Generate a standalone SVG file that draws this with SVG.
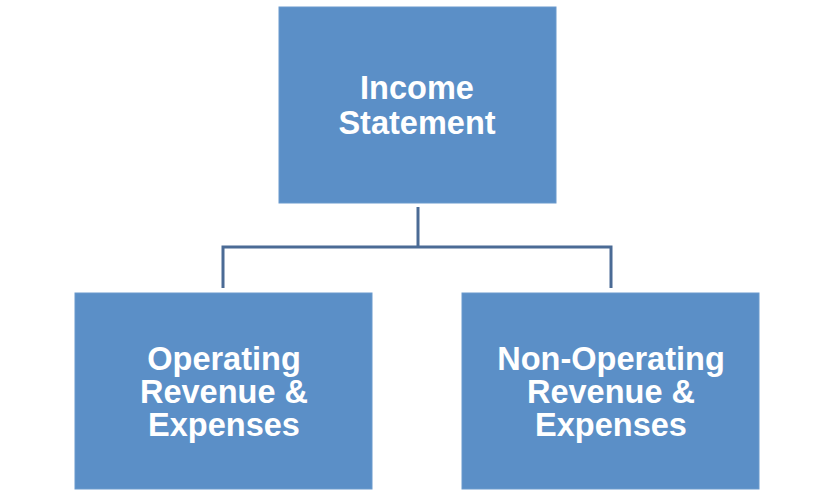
<svg xmlns="http://www.w3.org/2000/svg" width="834" height="496" viewBox="0 0 834 496">
<style>
.box{fill:#5b8fc7;stroke:#6a9acd;stroke-width:1}
.lbl{font-family:"Liberation Sans",Arial,sans-serif;font-weight:bold;font-size:32.5px;fill:#ffffff;text-anchor:middle}
.conn{fill:none;stroke:#4b6b95;stroke-width:3}
</style>
<rect width="834" height="496" fill="#ffffff"/>
<g id="connectors">
<path class="conn" d="M418,207 V247"/>
<path class="conn" d="M223,288 V247 H611 V288"/>
</g>
<g id="income-statement">
<rect class="box" x="279" y="7" width="277" height="196"/>
<text class="lbl" x="417" y="99">Income</text>
<text class="lbl" x="417" y="134">Statement</text>
</g>
<g id="operating">
<rect class="box" x="75" y="293" width="297" height="196"/>
<text class="lbl" x="224" y="370">Operating</text>
<text class="lbl" x="224" y="403">Revenue &amp;</text>
<text class="lbl" x="224" y="436">Expenses</text>
</g>
<g id="non-operating">
<rect class="box" x="462" y="293" width="297" height="196"/>
<text class="lbl" x="611" y="370">Non-Operating</text>
<text class="lbl" x="611" y="403">Revenue &amp;</text>
<text class="lbl" x="611" y="436">Expenses</text>
</g>
</svg>
